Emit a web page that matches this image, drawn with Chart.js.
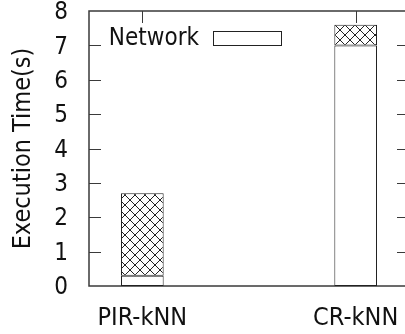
<!DOCTYPE html>
<html>
<head>
<meta charset="utf-8">
<script src="https://cdn.jsdelivr.net/npm/chart.js@4.4.1/dist/chart.umd.min.js"></script>
<style>
  html, body { margin: 0; padding: 0; background: #fff; overflow: hidden; }
  #wrap { width: 405px; height: 334px; overflow: hidden; }
</style>
</head>
<body>
<div id="wrap"><canvas id="chart" width="412" height="334"></canvas></div>
<script>
// data
var categories = ['PIR-kNN', 'CR-kNN'];
var computeTime = [0.3, 7.0];   // white part
var networkTime = [2.4, 0.6];   // hatched part
var yMin = 0, yMax = 8, yStep = 1;

var fam = '"DejaVu Sans Condensed", "DejaVu Sans", sans-serif';
var tickFont = { family: fam, size: 24, lineHeight: 1 };
var bigFont = { family: fam, size: 25, lineHeight: 1 };
var frameColor = '#3a3a3a';

// cross hatch tile
function makeHatch() {
    var c = document.createElement('canvas');
    c.width = 10;
    c.height = 10;
    var g = c.getContext('2d');
    g.fillStyle = '#fff';
    g.fillRect(0, 0, 10, 10);
    g.strokeStyle = '#222';
    g.lineWidth = 1;
    g.beginPath();
    g.moveTo(-1, -1); g.lineTo(11, 11);
    g.moveTo(11, -1); g.lineTo(-1, 11);
    g.stroke();
    return g.createPattern(c, 'repeat');
}

function toPoints(vals) {
    var out = [];
    for (let i = 0; i < vals.length; i++) {
        out.push({ x: i, y: vals[i] });
    }
    return out;
}

// gnuplot style frame with inward ticks
var framePlugin = {
    id: 'frame',
    beforeDatasetsDraw: function (chart) {
        var a = chart.chartArea;
        var ctx = chart.ctx;
        var ys = chart.scales.y;
        var xs = chart.scales.x;
        var tl = 12;
        ctx.save();
        ctx.strokeStyle = frameColor;
        ctx.lineWidth = 1;
        ctx.beginPath();
        for (let v = yMin + yStep; v < yMax; v += yStep) {
            let py = Math.round(ys.getPixelForValue(v)) + 0.5;
            ctx.moveTo(a.left, py); ctx.lineTo(a.left + tl, py);
            ctx.moveTo(a.right, py); ctx.lineTo(a.right - tl, py);
        }
        for (let i = 0; i < categories.length; i++) {
            let px = Math.round(xs.getPixelForValue(i)) + 0.5;
            ctx.moveTo(px, a.top); ctx.lineTo(px, a.top + tl);
        }
        ctx.stroke();
        ctx.lineWidth = 1.5;
        ctx.strokeRect(a.left, a.top, a.right - a.left, a.bottom - a.top);
        ctx.restore();
    },
    afterDatasetsDraw: function (chart) {
        // key: label on the left, empty box on the right
        var ctx = chart.ctx;
        var ds = chart.data.datasets[1];
        ctx.save();
        ctx.font = '24px ' + fam;
        ctx.fillStyle = '#111';
        ctx.textAlign = 'right';
        ctx.textBaseline = 'middle';
        ctx.fillText(ds.label, 199, 39);
        ctx.fillStyle = '#fff';
        ctx.fillRect(213.5, 31.5, 68, 14);
        ctx.strokeStyle = '#222';
        ctx.lineWidth = 1;
        ctx.strokeRect(213.5, 31.5, 68, 14);
        ctx.restore();
    }
};

var ctx = document.getElementById('chart').getContext('2d');
var chart = new Chart(ctx, {
    type: 'bar',
    data: {
        datasets: [
            {
                label: 'Compute',
                data: toPoints(computeTime),
                backgroundColor: '#fff',
                borderColor: '#222',
                borderWidth: 1,
                borderSkipped: false,
                barPercentage: 0.2,
                categoryPercentage: 1.0
            },
            {
                label: 'Network',
                data: toPoints(networkTime),
                backgroundColor: makeHatch(),
                borderColor: '#222',
                borderWidth: 1,
                borderSkipped: false,
                barPercentage: 0.2,
                categoryPercentage: 1.0
            }
        ]
    },
    options: {
        responsive: false,
        animation: false,
        layout: { padding: { top: 11, right: 3, left: 0, bottom: 0 } },
        plugins: {
            legend: { display: false },
            tooltip: { enabled: false }
        },
        scales: {
            x: {
                type: 'linear',
                min: -0.25,
                max: 1.25,
                offset: false,
                bounds: 'data',
                stacked: true,
                grid: { display: false, offset: false },
                border: { display: false },
                afterBuildTicks: function (s) {
                    s.ticks = categories.map(function (c, i) { return { value: i }; });
                },
                afterFit: function (s) { s.height = 48; },
                ticks: {
                    autoSkip: false,
                    maxRotation: 0,
                    padding: 12,
                    color: '#111',
                    font: bigFont,
                    callback: function (v) { return categories[v]; }
                }
            },
            y: {
                min: yMin,
                max: yMax,
                stacked: true,
                grid: { display: false },
                border: { display: false },
                afterFit: function (s) {
                    s.width = 89;
                    s.paddingTop = 11;
                    s.paddingBottom = 0;
                },
                ticks: {
                    stepSize: yStep,
                    padding: 13,
                    labelOffset: 2,
                    color: '#111',
                    font: tickFont
                },
                title: {
                    display: true,
                    text: 'Execution Time(s)',
                    color: '#111',
                    font: bigFont,
                    padding: { top: 11, bottom: 0 }
                }
            }
        }
    },
    plugins: [framePlugin]
});
</script>
</body>
</html>
